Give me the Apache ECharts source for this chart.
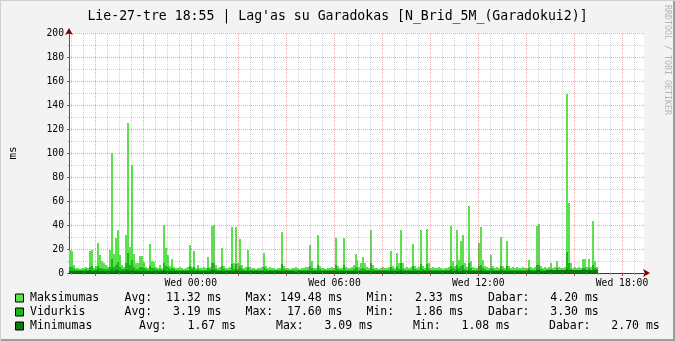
<!DOCTYPE html>
<html><head><meta charset="utf-8">
<script src="https://cdn.jsdelivr.net/npm/echarts@6/dist/echarts.min.js"></script>
<style>html,body{margin:0;padding:0;background:#F3F3F3}#c{width:675px;height:341px}</style>
</head><body><div id="c"></div><script>
// ---------- data ----------
const titleText = "Lie-27-tre 18:55 | Lag'as su Garadokas [N_Brid_5M_(Garadokui2)]";
const seriesNames = ['Maksimumas', 'Vidurkis', 'Minimumas'];
const startMinute = -305;   // minutes relative to Wed 00:00 (Tue 18:55)
const stepMinutes = 5;
const windowEnd = 1135;     // Wed 18:55

const maxVals = [
19,18,7,4,4,3,4,4,5,4,
18,19,4,6,25,15,10,8,7,5,
19,100,16,29,36,15,7,5,32,125,
22,90,16,8,8,14,14,9,5,4,
24,10,9,5,4,7,4,40,21,15,
6,12,5,4,4,5,4,3,4,5,
23,5,18,4,7,4,4,5,4,13,
5,39,40,7,4,5,21,6,4,4,
5,38,8,38,8,28,7,4,5,19,
5,4,4,3,4,4,5,17,6,4,
5,4,4,3,4,4,34,6,4,4,
3,4,4,5,4,3,4,4,5,5,
23,10,4,4,32,6,4,4,3,4,
4,5,4,29,6,4,4,29,5,4,
4,5,7,16,11,5,8,13,8,5,
4,36,7,4,4,3,4,5,4,4,
5,18,6,4,17,8,36,8,4,5,
4,5,24,6,4,5,36,6,4,37,
8,4,5,4,4,5,4,3,4,4,
5,39,10,6,36,11,27,32,8,5,
56,10,5,4,4,25,38,11,6,5,
4,15,6,4,5,4,30,6,4,27,
6,4,5,4,5,4,4,5,4,4,
11,5,4,5,39,41,6,4,5,4,
5,8,4,5,10,5,4,4,5,149,
58,8,4,5,4,5,4,12,12,5,
12,5,43,10,5
];
const avgVals = [
5,5,3.5,2.8,2.7,2.6,2.8,2.7,3,2.8,
5,5.5,2.8,3,6,4.5,4,3.5,3.5,3,
5,12,5,7,9,5,3.5,3,8,16.5,
7,11,5,3.5,3.5,5,5,4,3,2.8,
6,4,4,3,2.8,3.5,2.8,8,6,5,
3,4.5,3,2.7,2.6,2.8,2.7,2.5,2.7,2.9,
6,3,5,2.8,3.5,2.7,2.6,2.8,2.7,4.5,
3,8,8,3.5,2.7,2.8,5.5,3,2.7,2.6,
2.8,7.5,3.5,7.5,3.5,6,3.3,2.7,2.8,5,
2.8,2.6,2.6,2.5,2.6,2.7,2.8,5,3,2.6,
2.8,2.6,2.6,2.5,2.6,2.7,7.5,3,2.6,2.6,
2.5,2.6,2.7,2.8,2.6,2.5,2.6,2.6,2.8,2.9,
6,4,2.6,2.6,7,3,2.6,2.6,2.5,2.6,
2.6,2.8,2.6,6.5,3,2.6,2.6,6.5,2.8,2.6,
2.6,2.8,3.5,5,4,2.8,3.5,4.5,3.5,2.8,
2.6,8,3.5,2.6,2.6,2.5,2.6,2.8,2.6,2.6,
2.8,5,3,2.6,5,3.5,8,3.5,2.6,2.8,
2.6,2.8,6,3,2.6,2.8,7.5,3,2.6,7.5,
3.5,2.6,2.8,2.6,2.6,2.8,2.6,2.5,2.6,2.6,
2.8,6,4,3,7,4,5.5,6.5,3.5,2.8,
8,4,2.8,2.6,2.6,5.5,6.7,4,3,2.8,
2.6,4.5,3,2.6,2.8,2.6,6,3,2.6,6,
3,2.6,2.8,2.6,2.8,2.6,2.6,2.8,2.6,2.6,
4,2.8,2.6,2.8,6.5,7,3,2.6,2.8,2.6,
2.8,3.5,2.6,2.8,4,2.8,2.6,2.6,2.8,17.6,
8,3.5,2.6,2.8,2.6,2.8,2.6,4.5,4.5,2.8,
4.5,2.8,6.5,4,3.3
];
const minVals = [
2.0,1.8,1.6,1.5,1.6,1.5,1.7,1.6,1.5,1.6,
2.2,2.0,1.6,1.7,2.5,1.8,1.6,1.7,1.6,1.5,
2.0,3.0,1.8,2.2,2.4,1.8,1.6,1.5,2.3,2.8,
2.0,2.6,1.8,1.6,1.5,1.8,1.7,1.6,1.5,1.6,
1.9,1.6,1.7,1.5,1.4,1.6,1.5,2.2,1.9,1.7,
1.5,1.7,1.6,1.5,1.4,1.5,1.6,1.5,1.4,1.5,
1.8,1.5,1.7,1.5,1.6,1.4,1.5,1.6,1.5,1.7,
1.5,2.1,2.2,1.6,1.5,1.4,1.8,1.5,1.4,1.5,
1.6,2.0,1.6,2.1,1.6,1.9,1.6,1.5,1.4,1.7,
1.5,1.4,1.5,1.3,1.4,1.5,1.4,1.7,1.5,1.4,
1.5,1.4,1.3,1.4,1.5,1.4,2.0,1.5,1.4,1.3,
1.4,1.5,1.4,1.1,1.4,1.5,1.4,1.3,1.4,1.5,
1.8,1.6,1.4,1.5,1.9,1.5,1.4,1.3,1.4,1.5,
1.4,1.5,1.4,1.9,1.5,1.4,1.5,1.9,1.5,1.4,
1.5,1.4,1.6,1.8,1.7,1.5,1.6,1.7,1.6,1.5,
1.4,2.0,1.6,1.5,1.4,1.3,1.4,1.5,1.4,1.5,
1.5,1.8,1.6,1.5,1.8,1.6,2.1,1.6,1.5,1.4,
1.5,1.4,1.9,1.5,1.4,1.5,2.0,1.6,1.5,2.0,
1.6,1.5,1.4,1.5,1.4,1.6,1.5,1.4,1.5,1.6,
1.7,2.2,1.8,1.7,2.1,1.8,2.0,2.1,1.7,1.6,
2.3,1.8,1.7,1.6,1.7,2.0,2.2,1.8,1.7,1.6,
1.6,1.9,1.7,1.6,1.7,1.6,2.1,1.7,1.6,2.0,
1.7,1.6,1.7,1.6,1.7,1.8,1.7,1.8,1.9,1.8,
2.2,1.9,1.8,2.0,2.4,2.5,2.0,1.9,2.0,2.1,
2.2,2.3,2.1,2.2,2.4,2.2,2.1,2.2,2.3,3.09,
2.6,2.3,2.2,2.3,2.2,2.4,2.3,2.6,2.7,2.4,
2.6,2.4,2.8,2.6,2.7
];
const statAvg = ['11.32', '3.19', '1.67'];
const statMax = ['149.48', '17.60', '3.09'];
const statMin = ['2.33', '1.86', '1.08'];
const statNow = ['4.20', '3.30', '2.70'];
const xLabelValues = [0, 360, 720, 1080];
const xLabelTexts = ['Wed 00:00', 'Wed 06:00', 'Wed 12:00', 'Wed 18:00'];
const yUnit = 'ms';
const watermark = 'RRDTOOL / TOBI OETIKER';

// ---------- styles ----------
const MONO = '"DejaVu Sans Mono", monospace';
const colors = ['#5BE04E', '#16B916', '#0A7A0A'];
const gridGrey = 'rgba(140,140,140,0.40)';
const gridRed = 'rgba(150,30,30,0.35)';

const minor30 = [], major120 = [];
for (let m = -300; m <= windowEnd; m += 30) {
  if (m % 120 === 0) major120.push(m); else minor30.push(m);
}

const chart = echarts.init(document.getElementById('c'), null, {renderer: 'canvas'});

function makeRender(color) {
  return function (params, api) {
    const t = api.value(0), v = api.value(1);
    const p0 = api.coord([t, 0]);
    const p1 = api.coord([t + stepMinutes, v]);
    const x0 = Math.round(p0[0]), x1 = Math.round(p1[0]);
    const yb = Math.round(p0[1]), yt = Math.round(p1[1]);
    return {type: 'rect', shape: {x: x0, y: yt, width: x1 - x0, height: yb - yt},
      style: {fill: color}, silent: true};
  };
}
const areaSeries = [maxVals, avgVals, minVals].map((arr, k) => ({
  name: seriesNames[k], type: 'custom', xAxisIndex: 0, yAxisIndex: 0,
  data: arr.map((v, i) => [startMinute + i * stepMinutes, v]),
  encode: {x: 0, y: 1}, renderItem: makeRender(colors[k]), z: 3 + k,
  silent: true, animation: false, clip: true
}));

const gridLineSeries = {
  type: 'line', data: [], xAxisIndex: 0, yAxisIndex: 0, z: 1, silent: true, animation: false,
  markLine: {
    silent: true, symbol: ['none', 'none'], label: {show: false}, animation: false,
    data: minor30.map(v => ({xAxis: v, lineStyle: {color: gridGrey, type: [1, 1], width: 1}}))
      .concat(major120.map(v => ({xAxis: v, lineStyle: {color: gridRed, type: [1, 1], width: 1}})))
  }
};

// legend graphics
const rowY = [298.5, 312.5, 326.5];
const colX = [[30, 124.5, 245.5, 366.5, 488], [30, 124.5, 245.5, 366.5, 488], [30, 139, 276, 413, 549]];
const legendFont = '11.5px ' + MONO;
const graphics = [];
function pad(s, n) { return s.padStart(n, ' '); }
for (let r = 0; r < 3; r++) {
  graphics.push({type: 'rect', shape: {x: 15.5, y: rowY[r] - 4.5, width: 8, height: 8},
    style: {fill: colors[r], stroke: '#000', lineWidth: 1}, silent: true});
  const texts = [
    seriesNames[r],
    'Avg:' + pad(statAvg[r], 7) + ' ms',
    'Max:' + pad(statMax[r], 7) + ' ms',
    'Min:' + pad(statMin[r], 7) + ' ms',
    'Dabar:' + pad(statNow[r], 7) + ' ms'
  ];
  texts.forEach((t, j) => graphics.push({type: 'text', x: colX[r][j], y: rowY[r], silent: true,
    style: {text: t, font: legendFont, fill: '#000', align: 'left', verticalAlign: 'middle'}}));
}
graphics.push({type: 'text', x: 667, y: 5, rotation: -Math.PI / 2, silent: true,
  style: {text: watermark, font: '8.3px ' + MONO, fill: '#b4b4b4', align: 'left', verticalAlign: 'middle'}});
// frame shading
graphics.push({type: 'rect', shape: {x: 673, y: 0, width: 2, height: 341}, style: {fill: '#9c9c9c'}, silent: true});
graphics.push({type: 'rect', shape: {x: 0, y: 339, width: 675, height: 2}, style: {fill: '#9c9c9c'}, silent: true});
graphics.push({type: 'rect', shape: {x: 0, y: 0, width: 675, height: 1}, style: {fill: '#d0d0d0'}, silent: true});
graphics.push({type: 'rect', shape: {x: 0, y: 0, width: 1, height: 341}, style: {fill: '#d0d0d0'}, silent: true});

const option = {
  animation: false,
  backgroundColor: '#F3F3F3',
  title: {text: titleText, left: 'center', top: 5,
    textStyle: {fontFamily: MONO, fontSize: 13.2, fontWeight: 'normal', color: '#000'}},
  grid: {left: 66, right: 31, top: 33, bottom: 68, show: true, backgroundColor: '#FFFFFF', borderWidth: 0, containLabel: false},
  xAxis: [{
    type: 'value', min: startMinute, max: windowEnd, position: 'bottom',
    axisLine: {show: true, onZero: false, lineStyle: {color: '#3c3c3c', width: 1}},
    axisTick: {show: true, customValues: major120, length: 3, lineStyle: {color: '#c04040'}},
    axisLabel: {show: true, customValues: xLabelValues, margin: 5, fontFamily: MONO, fontSize: 9.7, color: '#000',
      formatter: v => xLabelTexts[xLabelValues.indexOf(v)] || ''},
    splitLine: {show: false}
  }, {
    type: 'value', min: startMinute, max: windowEnd, position: 'bottom', gridIndex: 0,
    axisLine: {show: true, onZero: false, symbol: ['none', 'arrow'], symbolSize: [6, 7], symbolOffset: [0, 6],
      lineStyle: {color: '#7F0000', width: 0.01}},
    axisTick: {show: true, customValues: minor30, length: 2, lineStyle: {color: '#a0a0a0'}},
    axisLabel: {show: false}, splitLine: {show: false}
  }],
  yAxis: [{
    type: 'value', min: 0, max: 200, interval: 20,
    name: yUnit, nameLocation: 'middle', nameRotate: 90, nameGap: 50,
    nameTextStyle: {fontFamily: MONO, fontSize: 11, color: '#000'},
    axisLine: {show: true, onZero: false, lineStyle: {color: '#555', width: 1}},
    axisTick: {show: true, length: 2, lineStyle: {color: '#c04040'}},
    minorTick: {show: true, splitNumber: 2, length: 1, lineStyle: {color: '#a0a0a0'}},
    axisLabel: {margin: 5, fontFamily: MONO, fontSize: 9.7, color: '#000'},
    splitLine: {show: true, lineStyle: {color: gridRed, type: [1, 1], width: 1}},
    minorSplitLine: {show: true, lineStyle: {color: gridGrey, type: [1, 1], width: 1}}
  }, {
    type: 'value', min: 0, max: 200, position: 'left', gridIndex: 0,
    axisLine: {show: true, onZero: false, symbol: ['none', 'arrow'], symbolSize: [6, 7], symbolOffset: [0, 5],
      lineStyle: {color: '#7F0000', width: 0.01}},
    axisTick: {show: false}, axisLabel: {show: false}, splitLine: {show: false}
  }],
  series: [gridLineSeries].concat(areaSeries),
  graphic: graphics
};
chart.setOption(option);
</script></body></html>
